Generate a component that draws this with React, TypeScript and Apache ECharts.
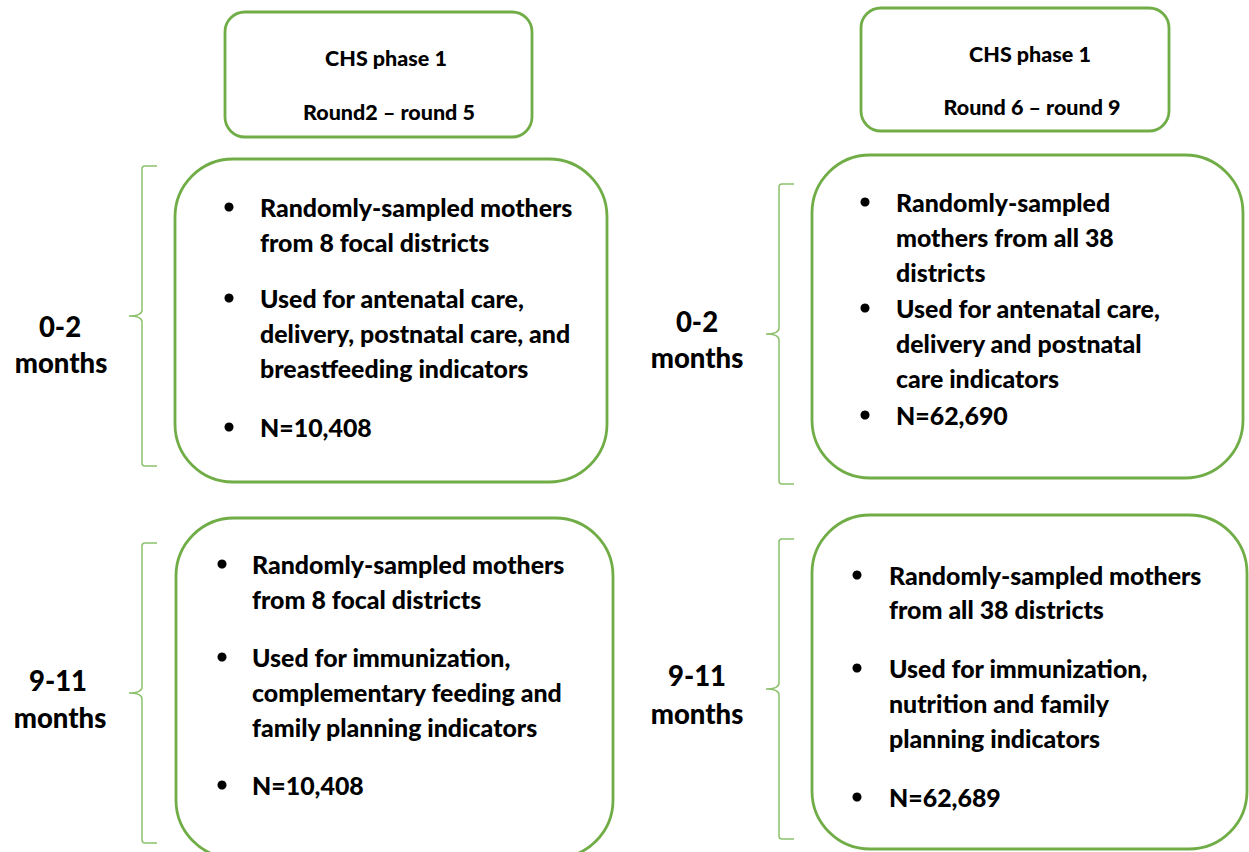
import React, { useEffect, useRef } from "react";
import * as echarts from "echarts";

// ---- content (text data) ----
const headerLeft = ["CHS phase 1", "Round2 – round 5"];
const headerRight = ["CHS phase 1", "Round 6 – round 9"];
const ageTop = ["0-2", "months"];
const ageBottom = ["9-11", "months"];

const bulletsTopLeft = [
  ["Randomly-sampled mothers", "from 8 focal districts"],
  ["Used for antenatal care,", "delivery, postnatal care, and", "breastfeeding indicators"],
  ["N=10,408"],
];
const bulletsTopRight = [
  ["Randomly-sampled", "mothers from all 38", "districts"],
  ["Used for antenatal care,", "delivery and postnatal", "care indicators"],
  ["N=62,690"],
];
const bulletsBottomLeft = [
  ["Randomly-sampled mothers", "from 8 focal districts"],
  ["Used for immunization,", "complementary feeding and", "family planning indicators"],
  ["N=10,408"],
];
const bulletsBottomRight = [
  ["Randomly-sampled mothers", "from all 38 districts"],
  ["Used for immunization,", "nutrition and family", "planning indicators"],
  ["N=62,689"],
];

// ---- layout ----
const GREEN = "#70AD47";
const BRACE = "#8CC16B";
const FONT = "Lato, 'Open Sans', sans-serif";

const BRACE_D =
  "M28,0 L16,0 Q13,0 13,3 L13,144 Q13,150 0,150 Q13,150 13,156 L13,297 Q13,300 16,300 L28,300";

function text(t: string, x: number, y: number, size: number, align = "left") {
  return {
    type: "text",
    x,
    y,
    style: {
      text: t,
      fill: "#000",
      fontFamily: FONT,
      fontWeight: 900,
      fontSize: size,
      textAlign: align,
      textVerticalAlign: "middle",
      align,
      verticalAlign: "middle",
    },
  };
}

function box(x: number, y: number, w: number, h: number, r: number) {
  return {
    type: "rect",
    shape: { x, y, width: w, height: h, r },
    style: { fill: "#fff", stroke: GREEN, lineWidth: 2.8 },
  };
}

function bulletBlock(
  items: string[][],
  bulletX: number,
  textX: number,
  ys: number[][],
  size: number
) {
  const els: any[] = [];
  items.forEach((lines, i) => {
    els.push({
      type: "circle",
      shape: { cx: bulletX, cy: ys[i][0], r: 4.5 },
      style: { fill: "#000" },
    });
    lines.forEach((l, j) => els.push(text(l, textX, ys[i][j], size)));
  });
  return els;
}

export default function App() {
  const ref = useRef<HTMLDivElement>(null);
  useEffect(() => {
    if (!ref.current) return;
    echarts.graphic.registerShape("brace", echarts.graphic.extendPath(BRACE_D, {}) as any);
    const chart = echarts.init(ref.current, null, { renderer: "svg" });
    const CS = 24.9;
    const HS = 21.5;
    const LS = 27.5;
    const elements: any[] = [
      box(225, 12, 307, 125, 20),
      box(861, 8, 308, 123, 20),
      box(175, 159, 432, 323, 58),
      box(812, 155, 431, 323, 58),
      box(176, 518, 437, 340, 58),
      box(812, 515, 435, 334, 58),
      { type: "brace", x: 129, y: 166, style: { fill: "none", stroke: BRACE, lineWidth: 1.5 } },
      { type: "brace", x: 766, y: 184, style: { fill: "none", stroke: BRACE, lineWidth: 1.5 } },
      { type: "brace", x: 129, y: 543, style: { fill: "none", stroke: BRACE, lineWidth: 1.5 } },
      { type: "brace", x: 766, y: 539, style: { fill: "none", stroke: BRACE, lineWidth: 1.5 } },
      text(headerLeft[0], 386, 58, HS, "center"),
      text(headerLeft[1], 389, 112, HS, "center"),
      text(headerRight[0], 1030, 54, HS, "center"),
      text(headerRight[1], 1032, 107, HS, "center"),
      text(ageTop[0], 60, 326, LS, "center"),
      text(ageTop[1], 61, 362, LS, "center"),
      text(ageTop[0], 697, 321, LS, "center"),
      text(ageTop[1], 697, 357, LS, "center"),
      text(ageBottom[0], 58, 680, LS, "center"),
      text(ageBottom[1], 60, 717, LS, "center"),
      text(ageBottom[0], 697, 675, LS, "center"),
      text(ageBottom[1], 697, 713, LS, "center"),
      ...bulletBlock(bulletsTopLeft, 229, 260, [[207, 242], [298, 333, 368], [427]], CS),
      ...bulletBlock(bulletsTopRight, 865, 896, [[202, 237, 272], [308, 343, 378], [415]], CS),
      ...bulletBlock(bulletsBottomLeft, 222, 252, [[564, 599], [657, 692, 727], [785]], CS),
      ...bulletBlock(bulletsBottomRight, 857, 889, [[575, 609], [668, 703, 738], [797]], CS),
    ];
    chart.setOption({ animation: false, graphic: { elements } });
    return () => chart.dispose();
  }, []);
  return (
    <div
      ref={ref}
      style={{ position: "absolute", left: 0, top: 0, width: 1249, height: 852, background: "#fff" }}
    />
  );
}
